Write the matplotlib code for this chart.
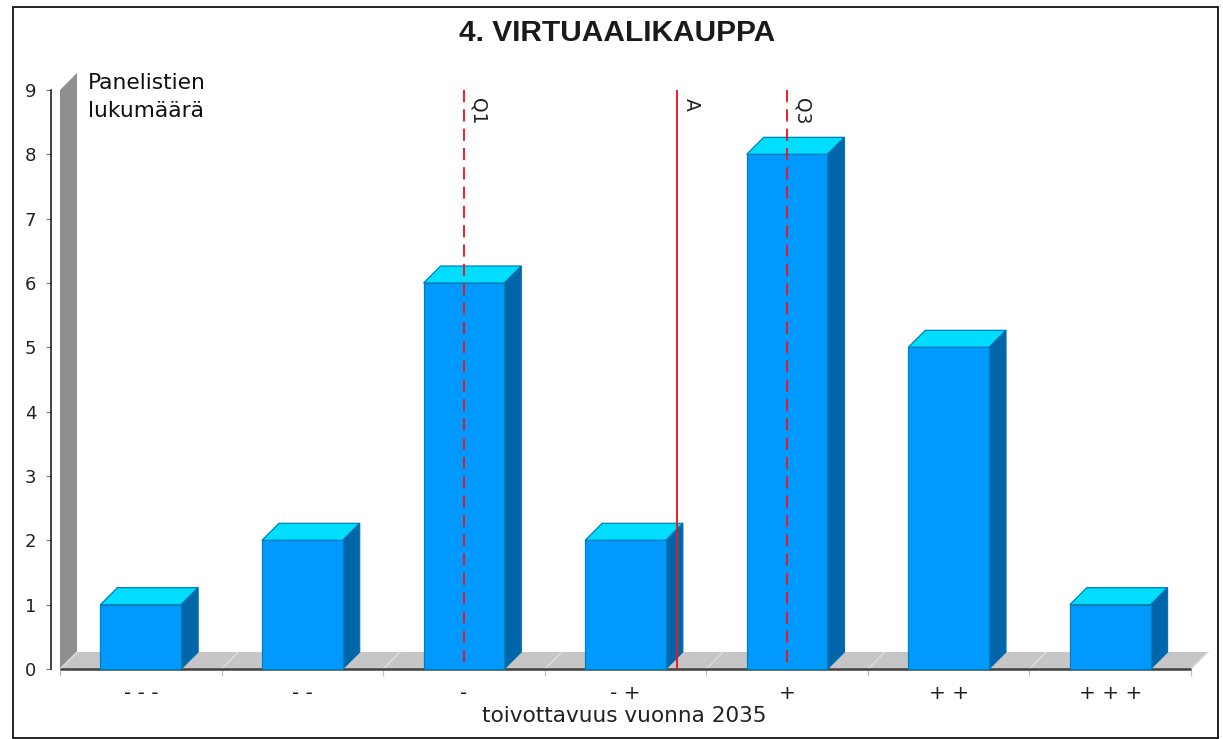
import matplotlib
matplotlib.use("Agg")
import matplotlib.pyplot as plt
from matplotlib.patches import Polygon, Rectangle
from matplotlib.transforms import Affine2D

categories = ["- - -", "- -", "-", "- +", "+", "+ +", "+ + +"]
counts = [1, 2, 6, 2, 8, 5, 1]
y_ticks = list(range(0, 10))
q1 = 3.0
mean_a = 4.32
q3 = 5.0
title = "4. VIRTUAALIKAUPPA"
y_title = "Panelistien\nlukumäärä"
x_title = "toivottavuus vuonna 2035"

plt.rcParams["font.family"] = ["DejaVu Sans"]

W, H = 1223, 739
DEPTH = 17
BAR_W = 0.5
L, R, T, B = 60, 1191, 90, 669
XMIN, XMAX = 0.5, len(categories) + 0.5
YTOP = y_ticks[-1]

fig = plt.figure(figsize=(W / 100, H / 100), dpi=100, facecolor="white")
ax = fig.add_axes([L / W, 1 - B / H, (R - L) / W, (B - T) / H])
ax.set_xlim(XMIN, XMAX)
ax.set_ylim(0, YTOP)
ax.patch.set_alpha(0)

fig.add_artist(Rectangle((12.5 / W, 1 - 737.5 / H), 1205 / W, 730.5 / H,
                         transform=fig.transFigure, fill=False,
                         edgecolor="#111111", linewidth=1.3))

back = ax.transData + Affine2D().translate(DEPTH, DEPTH)
dat = ax.transData
fr = lambda x, y: dat.transform((x, y))
bk = lambda x, y: back.transform((x, y))

# wall and floor
ax.add_patch(Polygon([fr(XMIN, 0), fr(XMIN, YTOP), bk(XMIN, YTOP), bk(XMIN, 0)],
                     transform=None, facecolor="#8f8f8f", edgecolor="none", clip_on=False, zorder=1))
ax.add_patch(Polygon([fr(XMIN, 0), fr(XMAX, 0), bk(XMAX, 0), bk(XMIN, 0)],
                     transform=None, facecolor="#c6c6c6", edgecolor="none", clip_on=False, zorder=1))
for i in range(len(categories) + 1):
    x = XMIN + i
    ax.plot([fr(x, 0)[0], bk(x, 0)[0]], [fr(x, 0)[1], bk(x, 0)[1]],
            transform=None, color="#dedede", lw=1, clip_on=False, zorder=1.5)
ax.plot([XMIN, XMAX], [0, 0], color="#404040", lw=1.8, clip_on=False, zorder=2,
        solid_capstyle="butt")

# bars
xs = list(range(1, len(categories) + 1))
edge = "#0080b8"
for x, v in zip(xs, counts):
    x0, x1 = x - BAR_W / 2, x + BAR_W / 2
    ax.add_patch(Polygon([fr(x0, v), fr(x1, v), bk(x1, v), bk(x0, v)],
                         transform=None, facecolor="#00ddff", edgecolor=edge, lw=0.9,
                         clip_on=False, zorder=3))
    ax.add_patch(Polygon([fr(x1, 0), fr(x1, v), bk(x1, v), bk(x1, 0)],
                         transform=None, facecolor="#0066aa", edgecolor="#0070b0", lw=0.8,
                         clip_on=False, zorder=3))
ax.bar(xs, counts, width=BAR_W, color="#0099ff", edgecolor=edge, linewidth=0.9,
       zorder=4, clip_on=False)

# reference lines, drawn from the top so the dash pattern starts there
ref = [(q1, "Q1", "--"), (mean_a, "A", "-"), (q3, "Q3", "--")]
for xv, lab, ls in ref:
    ax.plot([xv, xv], [YTOP, 0], color="#f0141e", lw=1.35, zorder=5,
            linestyle=(0, (6.5, 3.8)) if ls == "--" else "-", clip_on=False,
            dash_capstyle="butt", solid_capstyle="butt")
    ax.annotate(lab, xy=(xv, YTOP), xycoords="data", xytext=(5, -8), textcoords="offset pixels",
                rotation=270, ha="left", va="top", fontsize=13.5, color="#222222", zorder=6)

# axes
for s in ("top", "right", "bottom"):
    ax.spines[s].set_visible(False)
ax.spines["left"].set_position(("outward", 9 * 0.72))
ax.spines["left"].set_color("#111111")
ax.spines["left"].set_linewidth(1.1)
ax.set_yticks(y_ticks)
ax.tick_params(axis="y", length=3.5, width=0.8, color="#777777", pad=7,
               labelsize=13, labelcolor="#222222")
ax.set_xticks([XMIN + i for i in range(len(categories) + 1)])
ax.set_xticklabels([])
ax.tick_params(axis="x", which="major", length=5, width=0.9, color="#c0c0c0", direction="out")
ax.set_xticks(xs, minor=True)
ax.set_xticklabels(categories, minor=True, fontsize=14.5, color="#222222")
ax.tick_params(axis="x", which="minor", length=0, pad=11)

fig.text(617 / W, 1 - 33 / H, title, ha="center", va="center", fontsize=21.5,
         family="Liberation Sans", fontweight="bold", color="#1a1a1a")
first, second = y_title.split("\n")
fig.text(88 / W, 1 - 83 / H, first, ha="left", va="center", fontsize=15.7, color="#111111")
fig.text(88 / W, 1 - 111 / H, second, ha="left", va="center", fontsize=15.7, color="#111111")
fig.text(624.5 / W, 1 - 716 / H, x_title, ha="center", va="center", fontsize=15.6, color="#222222")

fig.savefig("out.png", dpi=100, facecolor="white")
